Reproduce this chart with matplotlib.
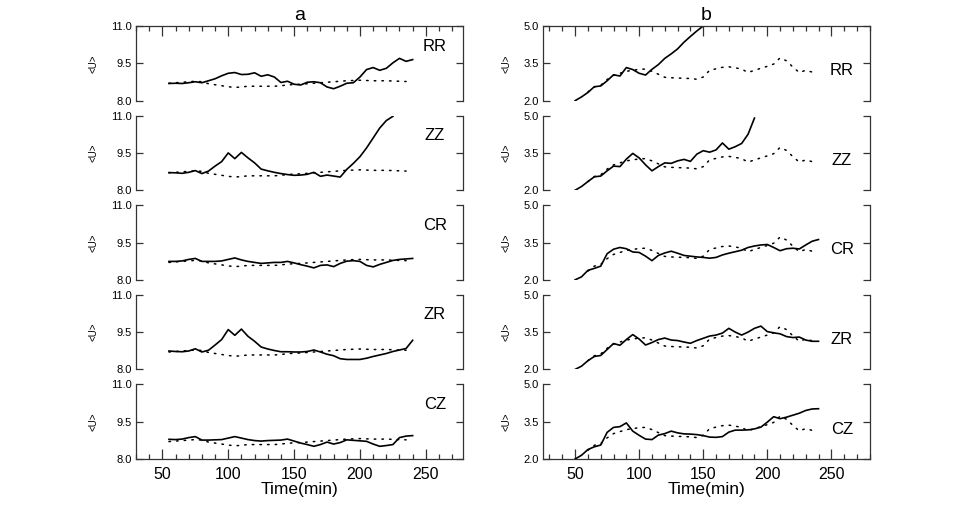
import matplotlib.pyplot as plt
from matplotlib.ticker import MultipleLocator

plt.rcParams['font.family'] = ['Liberation Sans', 'DejaVu Sans']

# time grids (min)
t_a = [55, 60, 65, 70, 75, 80, 85, 90, 95, 100, 105, 110, 115, 120, 125, 130, 135, 140, 145,
       150, 155, 160, 165, 170, 175, 180, 185, 190, 195, 200, 205, 210, 215, 220, 225, 230, 235, 240]
t_b = [50] + t_a

panel_names = ['RR', 'ZZ', 'CR', 'ZR', 'CZ']

# column a, solid lines
rr_a = [8.69, 8.70, 8.69, 8.72, 8.76, 8.72, 8.80, 8.88, 9.00, 9.10, 9.13, 9.05, 9.06, 9.12, 8.98, 9.04,
        8.95, 8.73, 8.78, 8.66, 8.63, 8.74, 8.76, 8.72, 8.55, 8.48, 8.58, 8.70, 8.72, 8.95, 9.25, 9.33,
        9.22, 9.30, 9.52, 9.70, 9.58, 9.65]
zz_a = [8.71, 8.70, 8.68, 8.72, 8.79, 8.67, 8.77, 8.97, 9.15, 9.50, 9.27, 9.52, 9.30, 9.10, 8.85, 8.78,
        8.72, 8.67, 8.63, 8.60, 8.61, 8.64, 8.72, 8.56, 8.61, 8.57, 8.53, 8.84, 9.08, 9.35, 9.70, 10.10,
        10.50, 10.80, 10.97]
cr_a = [8.74, 8.74, 8.76, 8.82, 8.86, 8.74, 8.74, 8.74, 8.76, 8.82, 8.88, 8.80, 8.74, 8.70, 8.66, 8.68,
        8.70, 8.70, 8.74, 8.68, 8.61, 8.55, 8.48, 8.58, 8.60, 8.53, 8.66, 8.75, 8.77, 8.74, 8.58, 8.52,
        8.62, 8.70, 8.78, 8.82, 8.84, 8.86]
zr_a = [8.74, 8.72, 8.71, 8.74, 8.83, 8.70, 8.77, 8.98, 9.20, 9.60, 9.37, 9.62, 9.33, 9.13, 8.90, 8.82,
        8.76, 8.71, 8.71, 8.70, 8.70, 8.72, 8.78, 8.70, 8.61, 8.55, 8.43, 8.40, 8.40, 8.40, 8.45, 8.52,
        8.58, 8.64, 8.72, 8.78, 8.84, 9.17]
cz_a = [8.79, 8.78, 8.80, 8.86, 8.90, 8.76, 8.76, 8.77, 8.78, 8.84, 8.90, 8.84, 8.78, 8.74, 8.72, 8.74,
        8.75, 8.76, 8.80, 8.72, 8.64, 8.58, 8.51, 8.58, 8.68, 8.60, 8.66, 8.77, 8.75, 8.73, 8.71, 8.60,
        8.51, 8.54, 8.58, 8.86, 8.92, 8.94]
# column a, dotted reference
ref_a = [8.70, 8.72, 8.74, 8.76, 8.78, 8.76, 8.68, 8.64, 8.60, 8.56, 8.53, 8.55, 8.58, 8.58, 8.58, 8.58,
         8.58, 8.60, 8.63, 8.65, 8.66, 8.68, 8.70, 8.72, 8.74, 8.76, 8.78, 8.80, 8.81, 8.82, 8.81, 8.80,
         8.80, 8.80, 8.79, 8.78, 8.77]

# column b, solid lines
rr_b = [2.00, 2.15, 2.33, 2.56, 2.59, 2.80, 3.04, 2.99, 3.33, 3.25, 3.10, 3.03, 3.26, 3.45, 3.70, 3.88,
        4.08, 4.35, 4.58, 4.80, 5.00]
zz_b = [2.00, 2.15, 2.35, 2.54, 2.57, 2.78, 2.97, 2.95, 3.25, 3.48, 3.30, 3.02, 2.78, 2.95, 3.10, 3.08,
        3.18, 3.24, 3.16, 3.45, 3.59, 3.53, 3.62, 3.90, 3.65, 3.75, 3.88, 4.25, 4.90]
cr_b = [2.00, 2.12, 2.38, 2.46, 2.55, 3.05, 3.23, 3.30, 3.25, 3.12, 3.10, 2.95, 2.77, 2.98, 3.08, 3.15,
        3.07, 2.98, 2.95, 2.92, 2.90, 2.87, 2.90, 3.00, 3.07, 3.13, 3.19, 3.30, 3.36, 3.40, 3.42, 3.30,
        3.17, 3.25, 3.27, 3.24, 3.40, 3.55, 3.62]
zr_b = [2.00, 2.13, 2.35, 2.52, 2.56, 2.80, 3.04, 2.97, 3.20, 3.40, 3.22, 2.98, 3.08, 3.20, 3.26, 3.18,
        3.16, 3.10, 3.05, 3.16, 3.25, 3.34, 3.38, 3.46, 3.65, 3.50, 3.38, 3.50, 3.65, 3.74, 3.52, 3.47,
        3.43, 3.32, 3.28, 3.30, 3.18, 3.13, 3.13]
cz_b = [2.00, 2.15, 2.38, 2.49, 2.56, 3.07, 3.27, 3.30, 3.45, 3.12, 2.95, 2.80, 2.78, 2.96, 3.02, 3.12,
        3.05, 3.01, 3.00, 2.98, 2.94, 2.88, 2.87, 2.90, 3.08, 3.16, 3.16, 3.17, 3.21, 3.28, 3.48, 3.70,
        3.62, 3.68, 3.76, 3.84, 3.95, 4.01, 4.02]
# column b, dotted reference (starts at 60 min)
ref_b = [2.35, 2.55, 2.62, 2.85, 3.02, 3.10, 3.18, 3.22, 3.26, 3.27, 3.18, 3.06, 2.94, 2.92, 2.91, 2.90,
         2.89, 2.86, 2.95, 3.22, 3.28, 3.34, 3.36, 3.32, 3.27, 3.13, 3.22, 3.30, 3.38, 3.47, 3.72, 3.60,
         3.35, 3.13, 3.22, 3.15]

cols = [
    dict(title='a', t=t_a, series=[rr_a, zz_a, cr_a, zr_a, cz_a], ref=ref_a, t_ref=t_a,
         ylim=(8.0, 11.0), yticks=[8.0, 9.5, 11.0], xlim=(30, 278), lab_y=0.73, ylab_x=-0.13),
    dict(title='b', t=t_b, series=[rr_b, zz_b, cr_b, zr_b, cz_b], ref=ref_b, t_ref=t_b[2:],
         ylim=(2.0, 5.0), yticks=[2.0, 3.5, 5.0], xlim=(25, 280), lab_y=0.40, ylab_x=-0.113),
]

fig, axes = plt.subplots(5, 2, figsize=(9.6, 5.05), dpi=100)
fig.subplots_adjust(left=0.1417, right=0.906, top=0.9485, bottom=0.0911, wspace=0.246, hspace=0.2)

spine_c = '#333333'
for j, col in enumerate(cols):
    for i in range(5):
        ax = axes[i, j]
        y = col['series'][i]
        ax.plot(col['t'][:len(y)], y, color='black', lw=1.2)
        ax.plot(col['t_ref'][:len(col['ref'])], col['ref'], color='black', lw=1.1,
                linestyle=(0, (1, 4)), dash_capstyle='round')
        ax.set_xlim(*col['xlim'])
        ax.set_ylim(*col['ylim'])
        ax.set_yticks(col['yticks'])
        ax.set_yticklabels(['%.1f' % v for v in col['yticks']], fontsize=8)
        ax.tick_params(axis='y', direction='in', left=True, right=True, length=5,
                       width=0.9, color=spine_c, pad=3)
        ax.xaxis.set_major_locator(MultipleLocator(50))
        ax.xaxis.set_minor_locator(MultipleLocator(10))
        for s in ax.spines.values():
            s.set_color(spine_c)
            s.set_linewidth(0.9)
        ax.spines['top'].set_visible(i == 0)
        ax.spines['bottom'].set_visible(i == 4)
        ax.tick_params(axis='x', which='both', direction='in', color=spine_c, width=0.9,
                       top=(i == 0), bottom=(i == 4), labeltop=False, labelbottom=(i == 4),
                       labelsize=11.5, pad=6)
        ax.tick_params(axis='x', which='major', length=7)
        ax.tick_params(axis='x', which='minor', length=3.5)
        ax.text(0.915, col['lab_y'], panel_names[i], transform=ax.transAxes,
                ha='center', va='center', fontsize=12)
        ax.text(col['ylab_x'], 0.5, '<U>', transform=ax.transAxes, rotation=90,
                ha='center', va='center', fontsize=7)
        if i == 0:
            ax.set_title(col['title'], fontsize=14, pad=4)
        if i == 4:
            ax.set_xlabel('Time(min)', fontsize=12.5, labelpad=0)

fig.savefig('out.png', dpi=100, facecolor='white')
